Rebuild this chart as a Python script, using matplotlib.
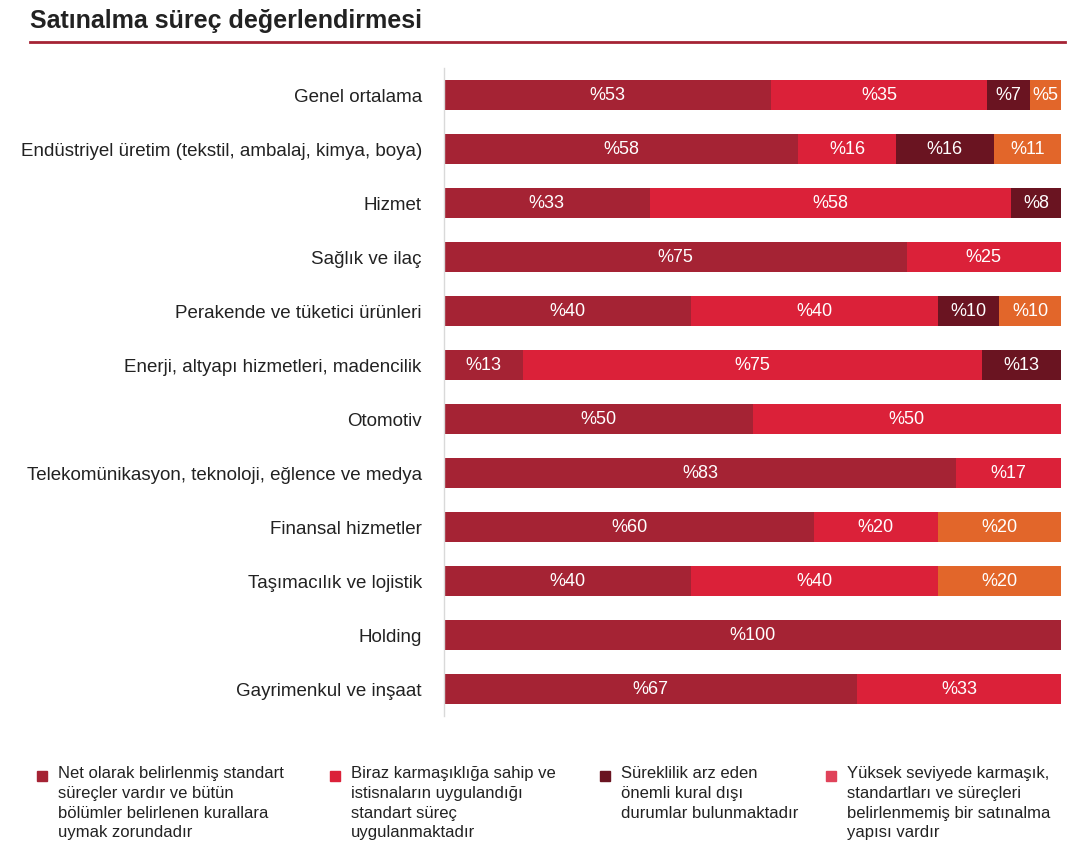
import matplotlib.pyplot as plt
import numpy as np

plt.rcParams['font.family'] = ['Liberation Sans', 'DejaVu Sans']

# ---------------------------
# Data
# ---------------------------
CATEGORIES = [
    "Genel ortalama",
    "Endüstriyel üretim (tekstil, ambalaj, kimya, boya)",
    "Hizmet",
    "Sağlık ve ilaç",
    "Perakende ve tüketici ürünleri",
    "Enerji, altyapı hizmetleri, madencilik",
    "Otomotiv",
    "Telekomünikasyon, teknoloji, eğlence ve medya",
    "Finansal hizmetler",
    "Taşımacılık ve lojistik",
    "Holding",
    "Gayrimenkul ve inşaat",
]

net_standart = [53, 58, 33, 75, 40, 13, 50, 83, 60, 40, 100, 67]
biraz_karmasik = [35, 16, 58, 25, 40, 75, 50, 17, 20, 40, 0, 33]
kural_disi = [7, 16, 8, 0, 10, 13, 0, 0, 0, 0, 0, 0]
yuksek_karmasik = [5, 11, 0, 0, 10, 0, 0, 0, 20, 20, 0, 0]

LEGEND_LABELS = [
    "Net olarak belirlenmiş standart\nsüreçler vardır ve bütün\nbölümler belirlenen kurallara\nuymak zorundadır",
    "Biraz karmaşıklığa sahip ve\nistisnaların uygulandığı\nstandart süreç\nuygulanmaktadır",
    "Süreklilik arz eden\nönemli kural dışı\ndurumlar bulunmaktadır",
    "Yüksek seviyede karmaşık,\nstandartları ve süreçleri\nbelirlenmemiş bir satınalma\nyapısı vardır",
]

BAR_COLORS = ['#A52334', '#DB2139', '#6A1421', '#E2662A']
LEGEND_COLORS = ['#A52334', '#DB2139', '#6A1421', '#E0435A']

series = np.array([net_standart, biraz_karmasik, kural_disi, yuksek_karmasik], dtype=float)
totals = series.sum(axis=0)
shares = series / totals * 100  # bars always fill the full width

# ---------------------------
# Plot
# ---------------------------
fig = plt.figure(figsize=(10.7, 8.51), dpi=100)

# title + rule
fig.text(30 / 1070, 1 - 21 / 851, "Satınalma süreç değerlendirmesi",
         fontsize=18, fontweight='bold', color='#222222', va='center', ha='left')
fig.add_artist(plt.Line2D([30 / 1070, 1065 / 1070], [1 - 42 / 851, 1 - 42 / 851],
                          color='#A52334', lw=2))

ax = fig.add_axes([444 / 1070, 1 - 716 / 851, 617 / 1070, 648 / 851])
y = np.arange(len(CATEGORIES))
left = np.zeros(len(CATEGORIES))

for i in range(series.shape[0]):
    bars = ax.barh(y, shares[i], left=left, height=0.57, color=BAR_COLORS[i],
                   edgecolor='none')
    for j, bar in enumerate(bars):
        if series[i, j] > 0:
            ax.text(bar.get_x() + bar.get_width() / 2, bar.get_y() + bar.get_height() / 2,
                    f"%{series[i, j]:.0f}", ha='center', va='center',
                    color='white', fontsize=13)
    left += shares[i]

ax.set_xlim(0, 100)
ax.set_ylim(len(CATEGORIES) - 0.5, -0.5)
ax.set_yticks(y)
ax.set_yticklabels(CATEGORIES, fontsize=13.5, color='#222222')
ax.tick_params(axis='y', length=0, pad=16)
ax.set_xticks([])
for side in ['top', 'right', 'bottom']:
    ax.spines[side].set_visible(False)
ax.spines['left'].set_color('#d9d9d9')
ax.spines['left'].set_linewidth(1)

# legend (manual, four columns)
leg_x = [37, 330, 600, 826]
for k in range(4):
    fig.add_artist(plt.Rectangle((leg_x[k] / 1070, 1 - 781 / 851), 10 / 1070, 10 / 851,
                                 color=LEGEND_COLORS[k], transform=fig.transFigure))
    fig.text((leg_x[k] + 21) / 1070, 1 - 766 / 851, LEGEND_LABELS[k], fontsize=12,
             color='#222222', va='top', ha='left', linespacing=1.4)

fig.savefig("out.png", dpi=100)
